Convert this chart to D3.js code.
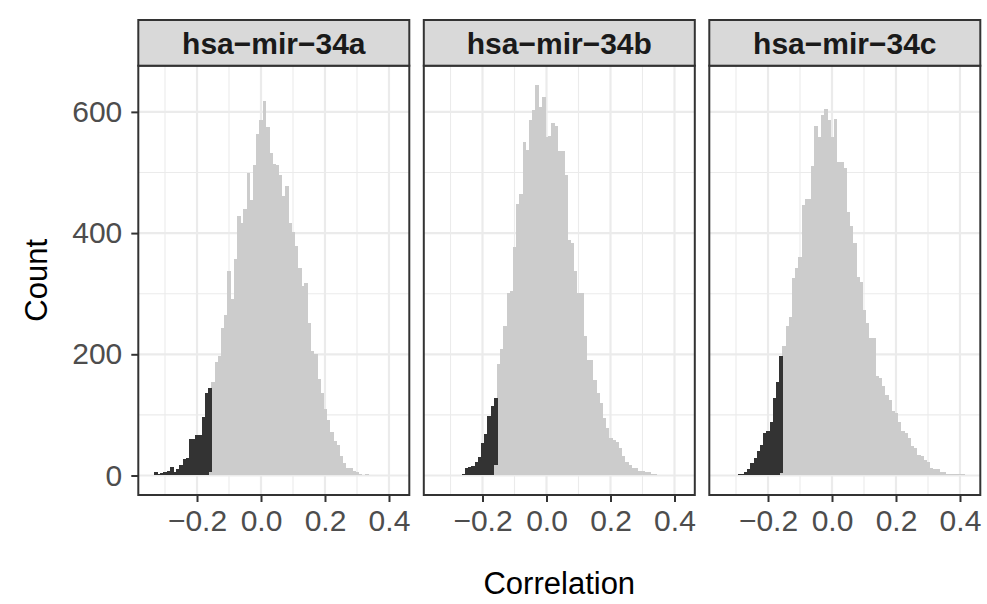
<!DOCTYPE html>
<html>
<head>
<meta charset="utf-8">
<script src="https://cdn.jsdelivr.net/npm/d3@7"></script>
<style>
  body { margin: 0; background: #fff; }
  text { font-family: "Liberation Sans", Arial, Helvetica, sans-serif; }
</style>
</head>
<body>
<div id="chart"></div>
<script>
// facets
var mirs = ["hsa\u2212mir\u221234a", "hsa\u2212mir\u221234b", "hsa\u2212mir\u221234c"];

// histogram bins: width 0.01, first bin starts at -0.345 (77 bins)
var binStart = -0.345;
var binWidth = 0.01;

// total count per bin
var total34a = [0,5,2,4,5,7,14,5,11,18,28,29,60,60,67,67,97,136,144,
  154,187,197,243,264,337,291,357,428,416,440,499,455,512,563,586,618,575,532,514,512,
  496,461,477,417,401,378,342,312,317,251,205,200,160,136,110,92,71,57,51,32,21,13,13,7,5,2,
  1,2,1,1,0,1,1,0,1,0,1];
var total34b = [1,0,1,0,1,1,0,1,2,13,14,15,22,30,53,69,98,114,128,
  184,208,246,301,305,377,448,465,551,537,586,603,644,608,625,558,560,582,576,536,536,
  496,389,383,337,301,301,230,191,191,158,136,120,95,79,62,59,56,45,32,23,18,13,13,7,7,5,
  5,2,2,1,1,1,1,1,1,1,0];
var total34c = [0,1,1,1,1,2,3,5,10,21,29,40,51,70,73,88,128,155,197,
  214,246,262,326,342,361,446,456,456,511,577,559,595,604,586,558,589,518,518,507,435,
  411,384,327,320,273,252,227,227,164,161,147,133,125,106,103,89,73,70,62,48,45,33,32,26,23,13,
  11,11,5,5,2,2,2,2,3,2,1];

// part of each bin below the cutoff (dark), first bins only
var dark34a = [0,5,2,4,5,7,14,5,11,18,28,29,60,60,67,67,97,136,139];
var dark34b = [1,0,1,0,1,1,0,1,2,13,14,15,22,30,53,69,98,114,110];
var dark34c = [0,1,1,1,1,2,3,5,10,21,29,40,51,70,73,88,128,155,193];

var totals = [total34a, total34b, total34c];
var darks = [dark34a, dark34b, dark34c];

var xTicks = [-0.2, 0.0, 0.2, 0.4];
var xMinor = [-0.3, -0.1, 0.1, 0.3];
var yTicks = [0, 200, 400, 600];
var yMinor = [100, 300, 500];

var width = 987, height = 604;
var panelLefts = [138.3, 423.8, 709.3];
var panelW = 271;
var panelTop = 65.7, panelBottom = 495;
var stripTop = 20;

var svg = d3.select("#chart").append("svg")
  .attr("width", width)
  .attr("height", height);

svg.append("rect").attr("width", width).attr("height", height).attr("fill", "#fff");

var nBins = total34a.length;
var xLo = binStart, xHi = binStart + nBins * binWidth;
var xPad = (xHi - xLo) * 0.05;
var x = d3.scaleLinear().domain([xLo - xPad, xHi + xPad]).range([0, panelW]);

var yMax = d3.max(totals, function (t) { return d3.max(t); });
var y = d3.scaleLinear().domain([-0.05 * yMax, 1.05 * yMax]).range([panelBottom, panelTop]);

mirs.forEach(function (name, p) {
  var g = svg.append("g").attr("transform", "translate(" + panelLefts[p] + ",0)");

  // grid
  g.selectAll(".xminor").data(xMinor).enter().append("line")
    .attr("x1", function (d) { return x(d); }).attr("x2", function (d) { return x(d); })
    .attr("y1", panelTop).attr("y2", panelBottom)
    .attr("stroke", "#EBEBEB").attr("stroke-width", 1.1);
  g.selectAll(".yminor").data(yMinor).enter().append("line")
    .attr("x1", 0).attr("x2", panelW)
    .attr("y1", function (d) { return y(d); }).attr("y2", function (d) { return y(d); })
    .attr("stroke", "#EBEBEB").attr("stroke-width", 1.1);
  g.selectAll(".xmajor").data(xTicks).enter().append("line")
    .attr("x1", function (d) { return x(d); }).attr("x2", function (d) { return x(d); })
    .attr("y1", panelTop).attr("y2", panelBottom)
    .attr("stroke", "#EBEBEB").attr("stroke-width", 2.2);
  g.selectAll(".ymajor").data(yTicks).enter().append("line")
    .attr("x1", 0).attr("x2", panelW)
    .attr("y1", function (d) { return y(d); }).attr("y2", function (d) { return y(d); })
    .attr("stroke", "#EBEBEB").attr("stroke-width", 2.2);

  var rows = totals[p].map(function (t, i) {
    var dk = i < darks[p].length ? darks[p][i] : 0;
    return { x0: binStart + i * binWidth, total: t, dark: dk, light: t - dk };
  });

  var bars = g.append("g").attr("shape-rendering", "crispEdges");

  // light part (bottom)
  bars.selectAll(".light").data(rows.filter(function (d) { return d.light > 0; }))
    .enter().append("rect")
    .attr("x", function (d) { return x(d.x0); })
    .attr("width", function (d) { return x(d.x0 + binWidth) - x(d.x0) + 0.6; })
    .attr("y", function (d) { return y(d.light); })
    .attr("height", function (d) { return y(0) - y(d.light); })
    .attr("fill", "#CCCCCC");

  // dark part stacked on top
  bars.selectAll(".dark").data(rows.filter(function (d) { return d.dark > 0; }))
    .enter().append("rect")
    .attr("x", function (d) { return x(d.x0); })
    .attr("width", function (d) { return x(d.x0 + binWidth) - x(d.x0) + 0.6; })
    .attr("y", function (d) { return y(d.total); })
    .attr("height", function (d) { return y(d.light) - y(d.total); })
    .attr("fill", "#333333");

  // panel border
  g.append("rect")
    .attr("x", 0).attr("y", panelTop)
    .attr("width", panelW).attr("height", panelBottom - panelTop)
    .attr("fill", "none").attr("stroke", "#333333").attr("stroke-width", 2);

  // strip
  g.append("rect")
    .attr("x", 0).attr("y", stripTop)
    .attr("width", panelW).attr("height", panelTop - stripTop)
    .attr("fill", "#D9D9D9").attr("stroke", "#333333").attr("stroke-width", 2);
  g.append("text")
    .attr("x", panelW / 2).attr("y", (stripTop + panelTop) / 2)
    .attr("dy", "0.36em")
    .attr("text-anchor", "middle")
    .attr("font-size", 30).attr("font-weight", "bold")
    .attr("fill", "#1A1A1A")
    .text(name);

  // x axis
  var xAxis = g.append("g").attr("transform", "translate(0," + panelBottom + ")")
    .call(d3.axisBottom(x).tickValues(xTicks).tickSize(7).tickPadding(8)
      .tickFormat(function (d) { return d3.format(".1f")(d).replace("-", "\u2212"); }));
  xAxis.select(".domain").remove();
  xAxis.selectAll("line").attr("stroke", "#333333").attr("stroke-width", 2);
  xAxis.selectAll("text").attr("font-size", 30).attr("fill", "#4D4D4D")
    .attr("font-family", "'Liberation Sans', Arial, Helvetica, sans-serif");
});

// y axis (left panel only)
var yAxis = svg.append("g").attr("transform", "translate(" + panelLefts[0] + ",0)")
  .call(d3.axisLeft(y).tickValues(yTicks).tickSize(7).tickPadding(9));
yAxis.select(".domain").remove();
yAxis.selectAll("line").attr("stroke", "#333333").attr("stroke-width", 2);
yAxis.selectAll("text").attr("font-size", 30).attr("fill", "#4D4D4D")
  .attr("font-family", "'Liberation Sans', Arial, Helvetica, sans-serif");

// axis titles
svg.append("text")
  .attr("x", (panelLefts[0] + panelLefts[2] + panelW) / 2)
  .attr("y", 594)
  .attr("text-anchor", "middle")
  .attr("font-size", 31)
  .attr("fill", "#000")
  .text("Correlation");

svg.append("text")
  .attr("transform", "translate(47," + (panelTop + panelBottom) / 2 + ") rotate(-90)")
  .attr("text-anchor", "middle")
  .attr("font-size", 31)
  .attr("fill", "#000")
  .text("Count");
</script>
</body>
</html>
